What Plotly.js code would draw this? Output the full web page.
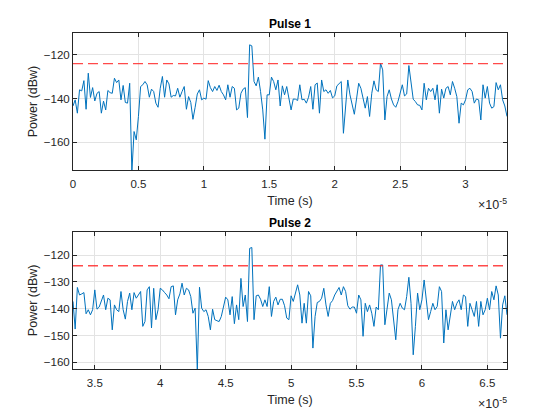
<!DOCTYPE html>
<html>
<head>
<meta charset="utf-8">
<script src="https://cdn.plot.ly/plotly-3.0.1.min.js"></script>
<style>html,body{margin:0;padding:0;background:#fff;}#chart{width:560px;height:420px;}</style>
</head>
<body>
<div id="chart"></div>
<script>
// ---- data ----
var sampleRate = 6e6;          // samples per second (fast-time grid)
var pulsePeriod = 200 / 6e6;   // start of pulse 2
var thresholdDb = -124;        // detection threshold (dBw)

var pulse1Power = [
 -143.4,-140.6,-146.7,-136.0,-136.5,-131.8,-144.9,-128.4,-139.5,-135.0,
 -141.1,-137.6,-136.8,-146.7,-141.2,-145.2,-136.3,-137.3,-137.6,-130.7,
 -132.7,-131.5,-140.6,-134.0,-141.8,-142.1,-133.0,-173.5,-155.1,-158.9,
 -148.2,-134.5,-133.7,-132.2,-133.7,-139.4,-135.7,-136.8,-142.1,-144.0,
 -135.3,-129.9,-139.4,-131.5,-133.3,-139.4,-138.6,-138.8,-135.3,-139.4,
 -136.8,-134.5,-144.9,-139.1,-141.8,-149.5,-144.0,-137.9,-136.0,-140.6,
 -139.8,-140.3,-131.8,-135.0,-136.8,-134.5,-136.3,-133.9,-136.8,-138.3,
 -140.6,-133.7,-139.4,-134.5,-135.3,-145.2,-144.4,-137.6,-135.7,-135.0,
 -148.7,-115.4,-115.9,-132.2,-134.2,-130.2,-136.8,-145.2,-158.6,-138.3,
 -138.3,-130.2,-132.2,-136.0,-131.5,-143.4,-134.2,-138.3,-134.5,-140.6,
 -145.2,-140.2,-140.3,-140.9,-133.7,-140.6,-140.3,-142.1,-139.4,-134.5,
 -144.9,-133.7,-132.9,-146.7,-131.5,-136.8,-136.0,-137.6,-136.3,-139.7,
 -138.8,-134.2,-133.0,-132.2,-155.9,-141.4,-131.5,-138.3,-142.1,-147.2,
 -140.2,-133.0,-135.3,-140.6,-144.4,-139.1,-148.2,-137.6,-131.9,-136.0,
 -136.8,-123.8,-126.9,-149.8,-139.1,-136.0,-140.2,-142.9,-144.0,-141.4,
 -136.8,-133.7,-138.8,-137.9,-124.9,-133.7,-140.3,-141.4,-142.9,-143.1,
 -145.2,-133.0,-140.6,-135.3,-136.8,-135.3,-140.6,-133.7,-146.7,-135.7,
 -139.8,-135.3,-134.5,-138.3,-132.2,-135.3,-139.1,-151.3,-142.1,-142.9,
 -140.6,-136.0,-135.3,-136.8,-142.1,-140.2,-140.6,-149.8,-133.7,-139.8,
 -134.5,-142.1,-144.4,-143.7,-132.7,-136.0,-133.7,-140.6,-143.4,-148.2
];

var pulse2Power = [
 -137.3,-147.6,-132.1,-134.9,-134.5,-134.0,-141.9,-140.4,-142.3,-140.4,
 -133.0,-140.2,-139.4,-137.3,-134.9,-140.4,-136.1,-136.7,-147.9,-138.6,
 -140.4,-141.1,-133.6,-140.4,-143.9,-137.3,-134.2,-140.4,-134.0,-136.1,
 -134.9,-133.6,-146.6,-144.8,-133.0,-131.8,-147.2,-132.4,-144.1,-140.4,
 -132.4,-133.0,-134.0,-134.9,-136.3,-131.8,-131.5,-142.3,-136.7,-134.5,
 -130.5,-134.9,-132.4,-133.0,-135.5,-141.7,-139.8,-163.0,-132.0,-139.8,
 -141.1,-140.4,-142.9,-147.9,-140.2,-144.1,-144.5,-144.8,-142.9,-139.4,
 -135.7,-136.7,-142.3,-135.5,-145.6,-138.6,-144.1,-128.7,-139.2,-134.9,
 -144.8,-117.5,-117.2,-144.1,-135.2,-134.9,-136.5,-139.2,-136.7,-139.2,
 -131.8,-142.9,-137.3,-135.7,-138.6,-136.5,-136.5,-138.9,-143.5,-144.1,
 -135.2,-137.3,-133.6,-131.1,-134.9,-145.4,-138.0,-145.4,-133.6,-135.2,
 -154.7,-142.9,-137.7,-137.3,-136.1,-132.4,-138.6,-142.9,-138.0,-137.0,
 -134.9,-133.6,-132.1,-134.9,-131.8,-133.6,-138.9,-140.2,-139.4,-139.4,
 -141.7,-134.9,-136.7,-150.3,-138.0,-141.1,-138.6,-141.7,-146.6,-139.4,
 -140.4,-123.7,-123.7,-146.0,-140.4,-134.2,-136.7,-144.1,-151.6,-140.4,
 -138.0,-139.8,-140.4,-135.5,-128.3,-138.0,-157.2,-146.6,-134.2,-140.4,
 -136.7,-129.3,-137.3,-144.1,-141.1,-138.0,-140.4,-139.2,-131.8,-133.6,
 -152.8,-140.4,-147.9,-142.9,-137.3,-140.4,-138.0,-136.7,-140.4,-134.9,
 -135.5,-146.6,-138.0,-140.4,-142.9,-137.3,-146.6,-137.3,-142.3,-140.4,
 -136.1,-140.4,-133.6,-136.7,-131.5,-134.9,-151.0,-138.6,-135.2,-142.3
];

var pulse1Ticks = [0, 0.5e-5, 1e-5, 1.5e-5, 2e-5, 2.5e-5, 3e-5];
var pulse1TickText = ['0', '0.5', '1', '1.5', '2', '2.5', '3'];
var pulse2Ticks = [3.5e-5, 4e-5, 4.5e-5, 5e-5, 5.5e-5, 6e-5, 6.5e-5];
var pulse2TickText = ['3.5', '4', '4.5', '5', '5.5', '6', '6.5'];
var power1Ticks = [-160, -140, -120];
var power2Ticks = [-160, -150, -140, -130, -120];

// ---- build time grids ----
function timeGrid(n, start) {
  var t = [];
  for (var i = 0; i < n; i++) t.push(start + i / sampleRate);
  return t;
}
var t1 = timeGrid(pulse1Power.length, 0);
var t2 = timeGrid(pulse2Power.length, pulsePeriod);

var blue = '#0072BD';
var red = '#ff2a2a';
var font = 'Liberation Sans, Arial, Helvetica, sans-serif';
var ink = '#262626';

var traces = [
  {x: t1, y: pulse1Power, type: 'scatter', mode: 'lines', line: {color: blue, width: 1}, xaxis: 'x', yaxis: 'y', hoverinfo: 'skip'},
  {x: [t1[0], t1[t1.length - 1]], y: [thresholdDb, thresholdDb], type: 'scatter', mode: 'lines',
   line: {color: red, width: 1.4, dash: '10px,5px'}, opacity: 0.85, xaxis: 'x', yaxis: 'y', hoverinfo: 'skip'},
  {x: t2, y: pulse2Power, type: 'scatter', mode: 'lines', line: {color: blue, width: 1}, xaxis: 'x2', yaxis: 'y2', hoverinfo: 'skip'},
  {x: [t2[0], t2[t2.length - 1]], y: [thresholdDb, thresholdDb], type: 'scatter', mode: 'lines',
   line: {color: red, width: 1.4, dash: '10px,5px'}, opacity: 0.85, xaxis: 'x2', yaxis: 'y2', hoverinfo: 'skip'}
];

function xAx(range, vals, text, anchor) {
  return {
    range: range, tickvals: vals, ticktext: text, anchor: anchor,
    showgrid: true, gridcolor: '#e3e3e3', gridwidth: 1, zeroline: false,
    showline: true, linecolor: ink, linewidth: 1, mirror: 'ticks',
    ticks: 'inside', ticklen: 4, tickcolor: ink, tickwidth: 1,
    ticklabelstandoff: 3,
    tickfont: {family: font, size: 11.5, color: ink},
    title: {text: 'Time (s)', font: {family: font, size: 12.5, color: ink}, standoff: 7},
    automargin: false
  };
}
function yAx(range, vals, anchor, domain) {
  return {
    range: range, tickvals: vals, anchor: anchor, domain: domain,
    showgrid: true, gridcolor: '#e3e3e3', gridwidth: 1, zeroline: false,
    showline: true, linecolor: ink, linewidth: 1, mirror: 'ticks',
    ticks: 'inside', ticklen: 4, tickcolor: ink, tickwidth: 1,
    tickfont: {family: font, size: 11.5, color: ink},
    title: {text: 'Power (dBw)', font: {family: font, size: 12.5, color: ink}, standoff: 3},
    automargin: false
  };
}

var layout = {
  width: 560, height: 420,
  margin: {l: 73, r: 53, t: 33, b: 51},
  paper_bgcolor: '#ffffff', plot_bgcolor: '#ffffff',
  showlegend: false,
  xaxis: xAx([0, t1[t1.length - 1]], pulse1Ticks, pulse1TickText, 'y'),
  yaxis: yAx([-172.7, -110], power1Ticks, 'x', [0.5923, 1]),
  xaxis2: xAx([t2[0], t2[t2.length - 1]], pulse2Ticks, pulse2TickText, 'y2'),
  yaxis2: yAx([-162.5, -111.3], power2Ticks, 'x2', [0, 0.4086]),
  annotations: [
    {text: '<b>Pulse 1</b>', xref: 'x domain', yref: 'y domain', x: 0.5, y: 1, xanchor: 'center', yanchor: 'bottom',
     yshift: 0, showarrow: false, font: {family: font, size: 12, color: '#000'}},
    {text: '<b>Pulse 2</b>', xref: 'x2 domain', yref: 'y2 domain', x: 0.5, y: 1, xanchor: 'center', yanchor: 'bottom',
     yshift: 0, showarrow: false, font: {family: font, size: 12, color: '#000'}},
    {text: '\u00d710<sup>-5</sup>', xref: 'x domain', yref: 'y domain', x: 1, y: 0, xanchor: 'right', yanchor: 'middle',
     yshift: -34, xshift: 2, showarrow: false, font: {family: font, size: 12.5, color: ink}},
    {text: '\u00d710<sup>-5</sup>', xref: 'x2 domain', yref: 'y2 domain', x: 1, y: 0, xanchor: 'right', yanchor: 'middle',
     yshift: -34, xshift: 2, showarrow: false, font: {family: font, size: 12.5, color: ink}}
  ]
};

Plotly.newPlot('chart', traces, layout, {staticPlot: true, displayModeBar: false});
</script>
</body>
</html>
